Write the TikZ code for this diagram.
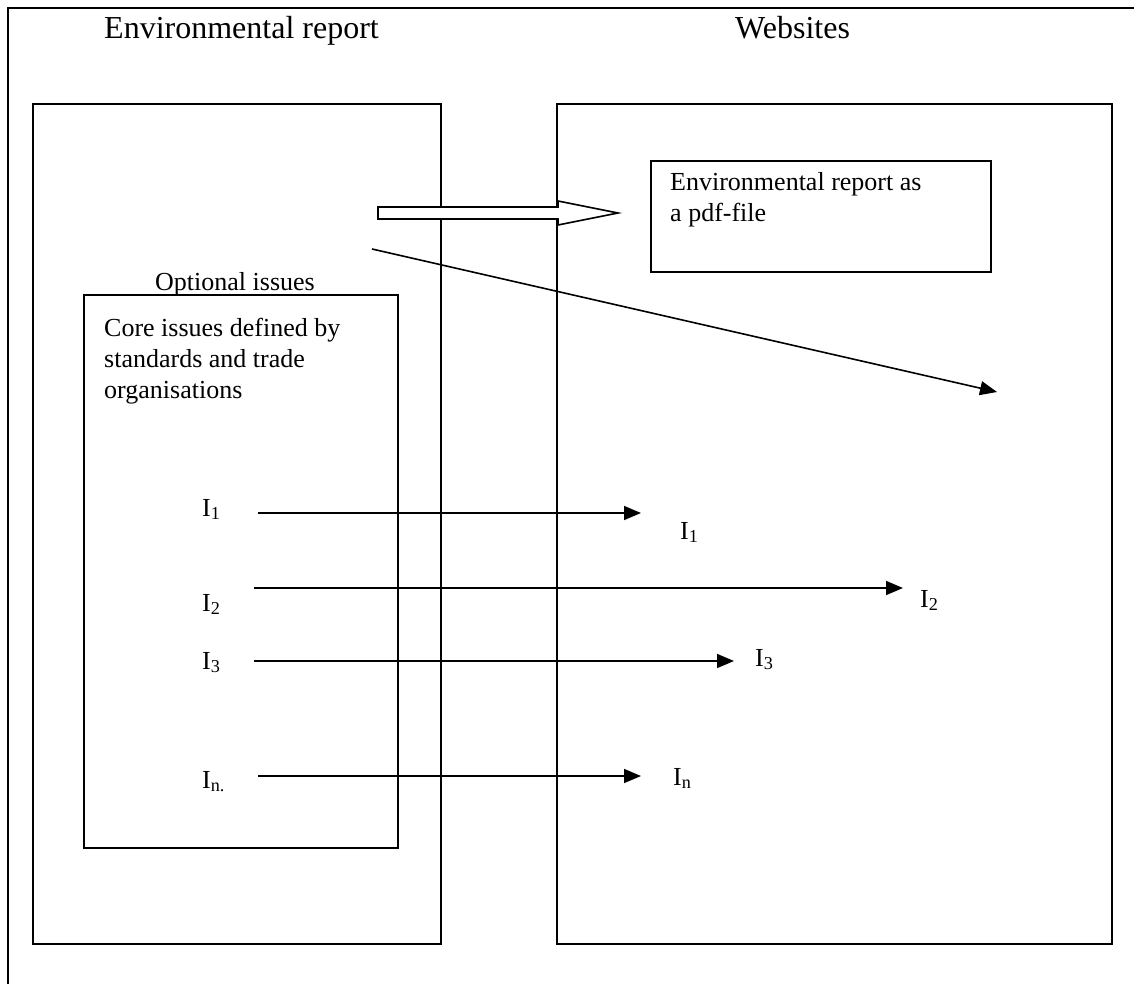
\documentclass[tikz,border=0pt]{standalone}
\usepackage{fontspec}
\setmainfont{Liberation Serif}
\usetikzlibrary{arrows.meta}

\tikzset{
  frame/.style={draw, line width=2.6pt},
  box/.style={draw, line width=1.6pt},
  heading/.style={inner sep=0pt, anchor=base west, font=\fontsize{32}{38}\selectfont},
  label/.style={inner sep=0pt, anchor=base west, font=\fontsize{26}{31}\selectfont},
  para/.style={inner sep=0pt, anchor=north west, align=left, font=\fontsize{26}{31}\selectfont},
  flow/.style={line width=1.6pt, -{Triangle[length=17pt,width=14pt]}},
  hollow/.style={draw, line width=1.6pt, fill=white, line join=miter}
}

\begin{document}
\begin{tikzpicture}[x=1pt, y=-1pt]
\useasboundingbox (0,0) rectangle (1134,984);

% outer frame, running off the right and bottom edges
\draw[frame] (8,990) -- (8,8) -- (1140,8);

% headings
\node[heading] (hEnv) at (104,39) {Environmental report};
\node[heading] (hWeb) at (735,39) {Websites};

% the two columns and the core box
\draw[box] (33,104) rectangle (441,944);
\draw[box] (557,104) rectangle (1112,944);
\draw[box] (84,295) rectangle (398,848);
\draw[box] (651,161) rectangle (991,272);

% box texts
\node[para] (pdf) at (670,172) {Environmental report as\\a pdf-file};
\node[para] (core) at (104,318) {Core issues defined by\\standards and trade\\organisations};
\node[label] (opt) at (155,290) {Optional issues};

% block arrow: the report goes online as a pdf
\draw[hollow] (378,207) -- (558,207) -- (558,201) -- (618,213) -- (558,225)
  -- (558,219) -- (378,219) -- cycle;

% optional issues spread over the website
\coordinate (optS) at (372,249);
\coordinate (optE) at (997,392);
\draw[flow] (optS) -- (optE);

% core issues, left labels
\node[label] (l1) at (202,516) {I\textsubscript{1}};
\node[label] (l2) at (202,611) {I\textsubscript{2}};
\node[label] (l3) at (202,669) {I\textsubscript{3}};
\node[label] (ln) at (202,788) {I\textsubscript{n.}};

% core issues, right labels
\node[label] (r1) at (680,539) {I\textsubscript{1}};
\node[label] (r2) at (920,607) {I\textsubscript{2}};
\node[label] (r3) at (755,666) {I\textsubscript{3}};
\node[label] (rn) at (673,785) {I\textsubscript{n}};

% arrow ends
\coordinate (a1) at (258,513);  \coordinate (b1) at (641,513);
\coordinate (a2) at (254,588);  \coordinate (b2) at (903,588);
\coordinate (a3) at (254,661);  \coordinate (b3) at (734,661);
\coordinate (an) at (258,776);  \coordinate (bn) at (641,776);

\draw[flow] (a1) -- (b1);
\draw[flow] (a2) -- (b2);
\draw[flow] (a3) -- (b3);
\draw[flow] (an) -- (bn);
\end{tikzpicture}
\end{document}
